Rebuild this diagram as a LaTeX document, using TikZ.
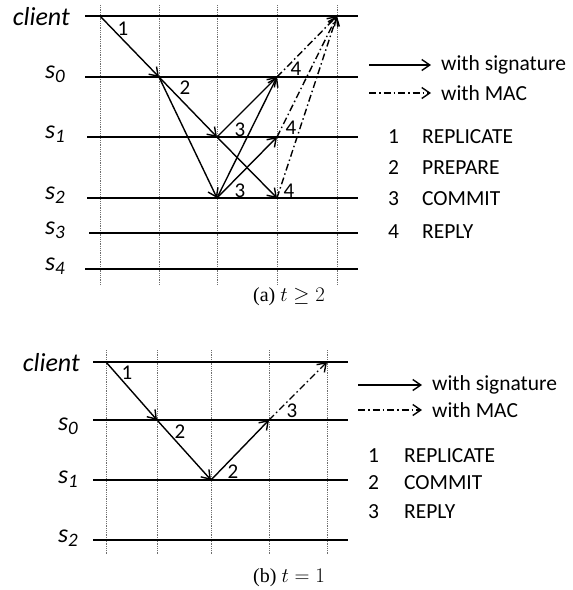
\documentclass[tikz,border=0pt]{standalone}
\usepackage{fontspec}
\setmainfont{Carlito}
\newfontfamily\capfont{Liberation Serif}
\usetikzlibrary{arrows.meta, positioning, calc}
\definecolor{gridgray}{RGB}{110,110,110}
\newcommand{\srv}[1]{s\raisebox{-0.4ex}{\fontsize{19}{20}\selectfont #1}}

\begin{document}
\begin{tikzpicture}[x=1pt, y=-1pt,
  proc/.style={line width=1.9pt},
  grid/.style={gridgray, densely dotted, line width=0.8pt},
  sig/.style={-{Straight Barb[length=8pt, width=11pt]}, line width=1.4pt},
  mac/.style={sig, dash pattern=on 7pt off 3pt on 1.5pt off 3pt},
  lbl/.style={font=\fontsize{26}{28}\selectfont\itshape, anchor=base east, inner sep=0pt},
  num/.style={font=\fontsize{21}{23}\selectfont, inner sep=0pt},
  leg/.style={font=\fontsize{21.5}{23}\selectfont, anchor=west, inner sep=0pt},
  legarr/.style={font=\fontsize{21.5}{23}\selectfont, anchor=west, inner xsep=10pt, inner ysep=0pt},
  figcap/.style={font=\fontsize{20}{22}\selectfont\capfont}
]
\useasboundingbox (0,0) rectangle (573,590);

% ---------- (a) t >= 2 ----------
\foreach \x [count=\i] in {100,159,217,277,337} {
  \draw[grid] (\x,5) -- (\x,285);
  \foreach \y/\r in {16/cl,77/s0,137/s1,198/s2}
    \coordinate (a-\r-\i) at (\x,\y);
}

\node[lbl] (a-cl) at (70,25) {client};
\node[lbl] (a-s0) at (65,78) {\srv{0}};
\node[lbl] (a-s1) at (65,138) {\srv{1}};
\node[lbl] (a-s2) at (65,199) {\srv{2}};
\node[lbl] (a-s3) at (65,234) {\srv{3}};
\node[lbl] (a-s4) at (65,270) {\srv{4}};

\draw[proc] (85,16) -- (358,16);
\draw[proc] (85,77) -- (358,77);
\draw[proc] (87,137) -- (358,137);
\draw[proc] (87,198) -- (358,198);
\draw[proc] (89,233) -- (358,233);
\draw[proc] (85,269) -- (358,269);

\draw[sig] (a-cl-1) -- (a-s0-2);
\draw[sig] (a-s0-2) -- (a-s1-3);
\draw[sig] (a-s0-2) -- (a-s2-3);
\draw[sig] (a-s1-3) -- (a-s0-4);
\draw[sig] (a-s1-3) -- (a-s2-4);
\draw[sig] (a-s2-3) -- (a-s0-4);
\draw[sig] (a-s2-3) -- (a-s1-4);
\draw[mac] (a-s0-4) -- (a-cl-5);
\draw[mac] (a-s1-4) -- (a-cl-5);
\draw[mac] (a-s2-4) -- (a-cl-5);

\node[num] (a-n1) at (123,29) {1};
\node[num] (a-n2) at (185,88) {2};
\node[num] (a-n3a) at (240,130) {3};
\node[num] (a-n3b) at (240,191) {3};
\node[num] (a-n4a) at (296,69) {4};
\node[num] (a-n4b) at (291,128) {4};
\node[num] (a-n4c) at (289,191) {4};

% legend
\coordinate (a-sigl) at (369,65);
\coordinate (a-macl) at (369,93);
\node[legarr] (a-sig) at (431,65) {with signature};
\node[legarr] (a-mac) at (431,93) {with MAC};
\draw[sig] (a-sigl) -- (a-sig.west);
\draw[mac] (a-macl) -- (a-mac.west);

\foreach \n/\y/\t in {1/137/REPLICATE, 2/168/PREPARE, 3/199/COMMIT, 4/232/REPLY} {
  \node[leg] (a-k\n) at (388,\y) {\n};
  \node[leg] (a-m\n) at (422,\y) {\t};
}

\node[figcap] (a-cap) at (289,297) {(a) $t \geq 2$};

% ---------- (b) t = 1 ----------
\foreach \x [count=\i] in {106,157,211,269,327} {
  \draw[grid] (\x,350) -- (\x,555);
  \foreach \y/\r in {362/cl,420/s0,480/s1,540/s2}
    \coordinate (b-\r-\i) at (\x,\y);
}

\node[lbl] (b-cl) at (80,371) {client};
\node[lbl] (b-s0) at (78,430) {\srv{0}};
\node[lbl] (b-s1) at (78,483) {\srv{1}};
\node[lbl] (b-s2) at (78,542) {\srv{2}};

\draw[proc] (93,362) -- (348,362);
\draw[proc] (93,420) -- (348,420);
\draw[proc] (93,480) -- (348,480);
\draw[proc] (93,540) -- (348,540);

\draw[sig] (b-cl-1) -- (b-s0-2);
\draw[sig] (b-s0-2) -- (b-s1-3);
\draw[sig] (b-s1-3) -- (b-s0-4);
\draw[mac] (b-s0-4) -- (b-cl-5);

\node[num] (b-n1) at (127,373) {1};
\node[num] (b-n2a) at (180,432) {2};
\node[num] (b-n2b) at (233,472) {2};
\node[num] (b-n3) at (292,411) {3};

% legend
\coordinate (b-sigl) at (358,385);
\coordinate (b-macl) at (358,410);
\node[legarr] (b-sig) at (422,385) {with signature};
\node[legarr] (b-mac) at (422,410) {with MAC};
\draw[sig] (b-sigl) -- (b-sig.west);
\draw[mac] (b-macl) -- (b-mac.west);

\foreach \n/\y/\t in {1/456/REPLICATE, 2/483/COMMIT, 3/512/REPLY} {
  \node[leg] (b-k\n) at (368,\y) {\n};
  \node[leg] (b-m\n) at (404,\y) {\t};
}

\node[figcap] (b-cap) at (289,578) {(b) $t = 1$};
\end{tikzpicture}
\end{document}
